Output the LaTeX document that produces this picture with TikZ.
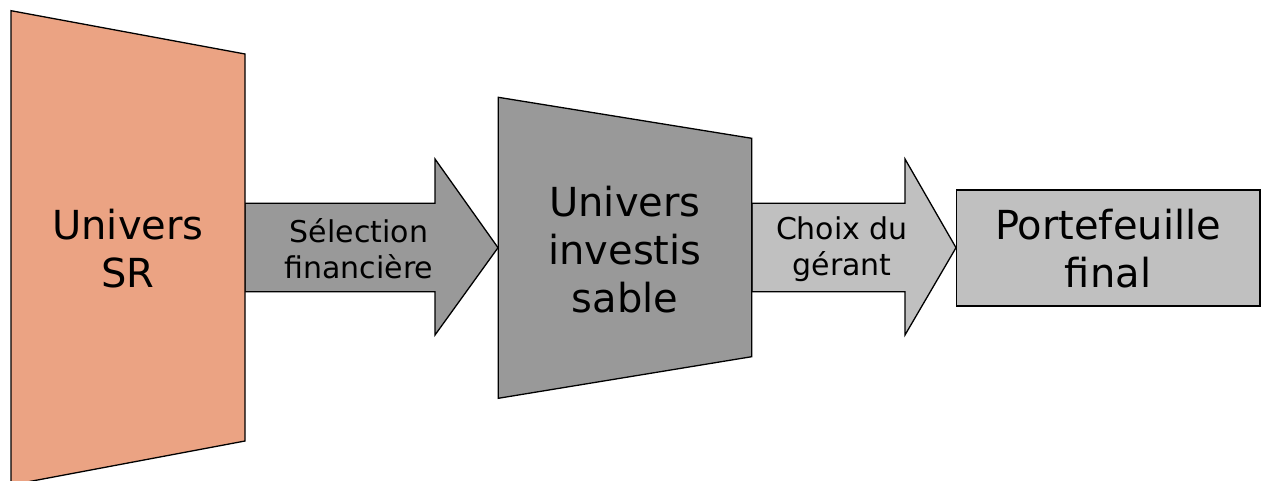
\documentclass[tikz,border=0pt]{standalone}
\usepackage{fontspec}
\setmainfont{DejaVu Sans}
\definecolor{salmon}{HTML}{EBA383}
\definecolor{midgray}{HTML}{999999}
\definecolor{lightgray}{HTML}{C0C0C0}
\begin{document}
\begin{tikzpicture}[x=1pt,y=-1pt,
  shapeline/.style={draw=black,line width=1.3pt,line join=miter},
  bigtext/.style={font=\fontsize{40}{48}\selectfont,align=center,inner sep=0pt},
  smalltext/.style={font=\fontsize{30}{36}\selectfont,align=center,inner sep=0pt}]
\useasboundingbox (0,0) rectangle (1261,481);
\clip (0,0) rectangle (1261,481);
% arrows
\draw[shapeline,fill=midgray] (245,203.3) -- (435,203.3) -- (435,159) -- (498,247.7) -- (435,335) -- (435,291.7) -- (245,291.7) -- cycle;
\draw[shapeline,fill=lightgray] (752,203.3) -- (905,203.3) -- (905,159) -- (956,247.7) -- (905,335) -- (905,291.7) -- (752,291.7) -- cycle;
% shapes
\draw[shapeline,fill=salmon] (11,10.7) -- (245,54) -- (245,441) -- (11,485) -- cycle;
\draw[shapeline,fill=midgray] (498.3,97.3) -- (751.7,138.3) -- (751.7,356.7) -- (498.3,398.3) -- cycle;
\draw[shapeline,fill=lightgray] (956.7,190) rectangle (1260,306);
% texts
\node[bigtext] (sr) at (128,249) {Univers\\SR};
\node[smalltext] (sel) at (359,249) {Sélection\\financière};
\node[bigtext] (inv) at (625,250) {Univers\\investis\\sable};
\node[smalltext] (choix) at (842,249) {Choix du\\gérant};
\node[bigtext] (port) at (1108,249) {Portefeuille\\final};
\end{tikzpicture}
\end{document}
